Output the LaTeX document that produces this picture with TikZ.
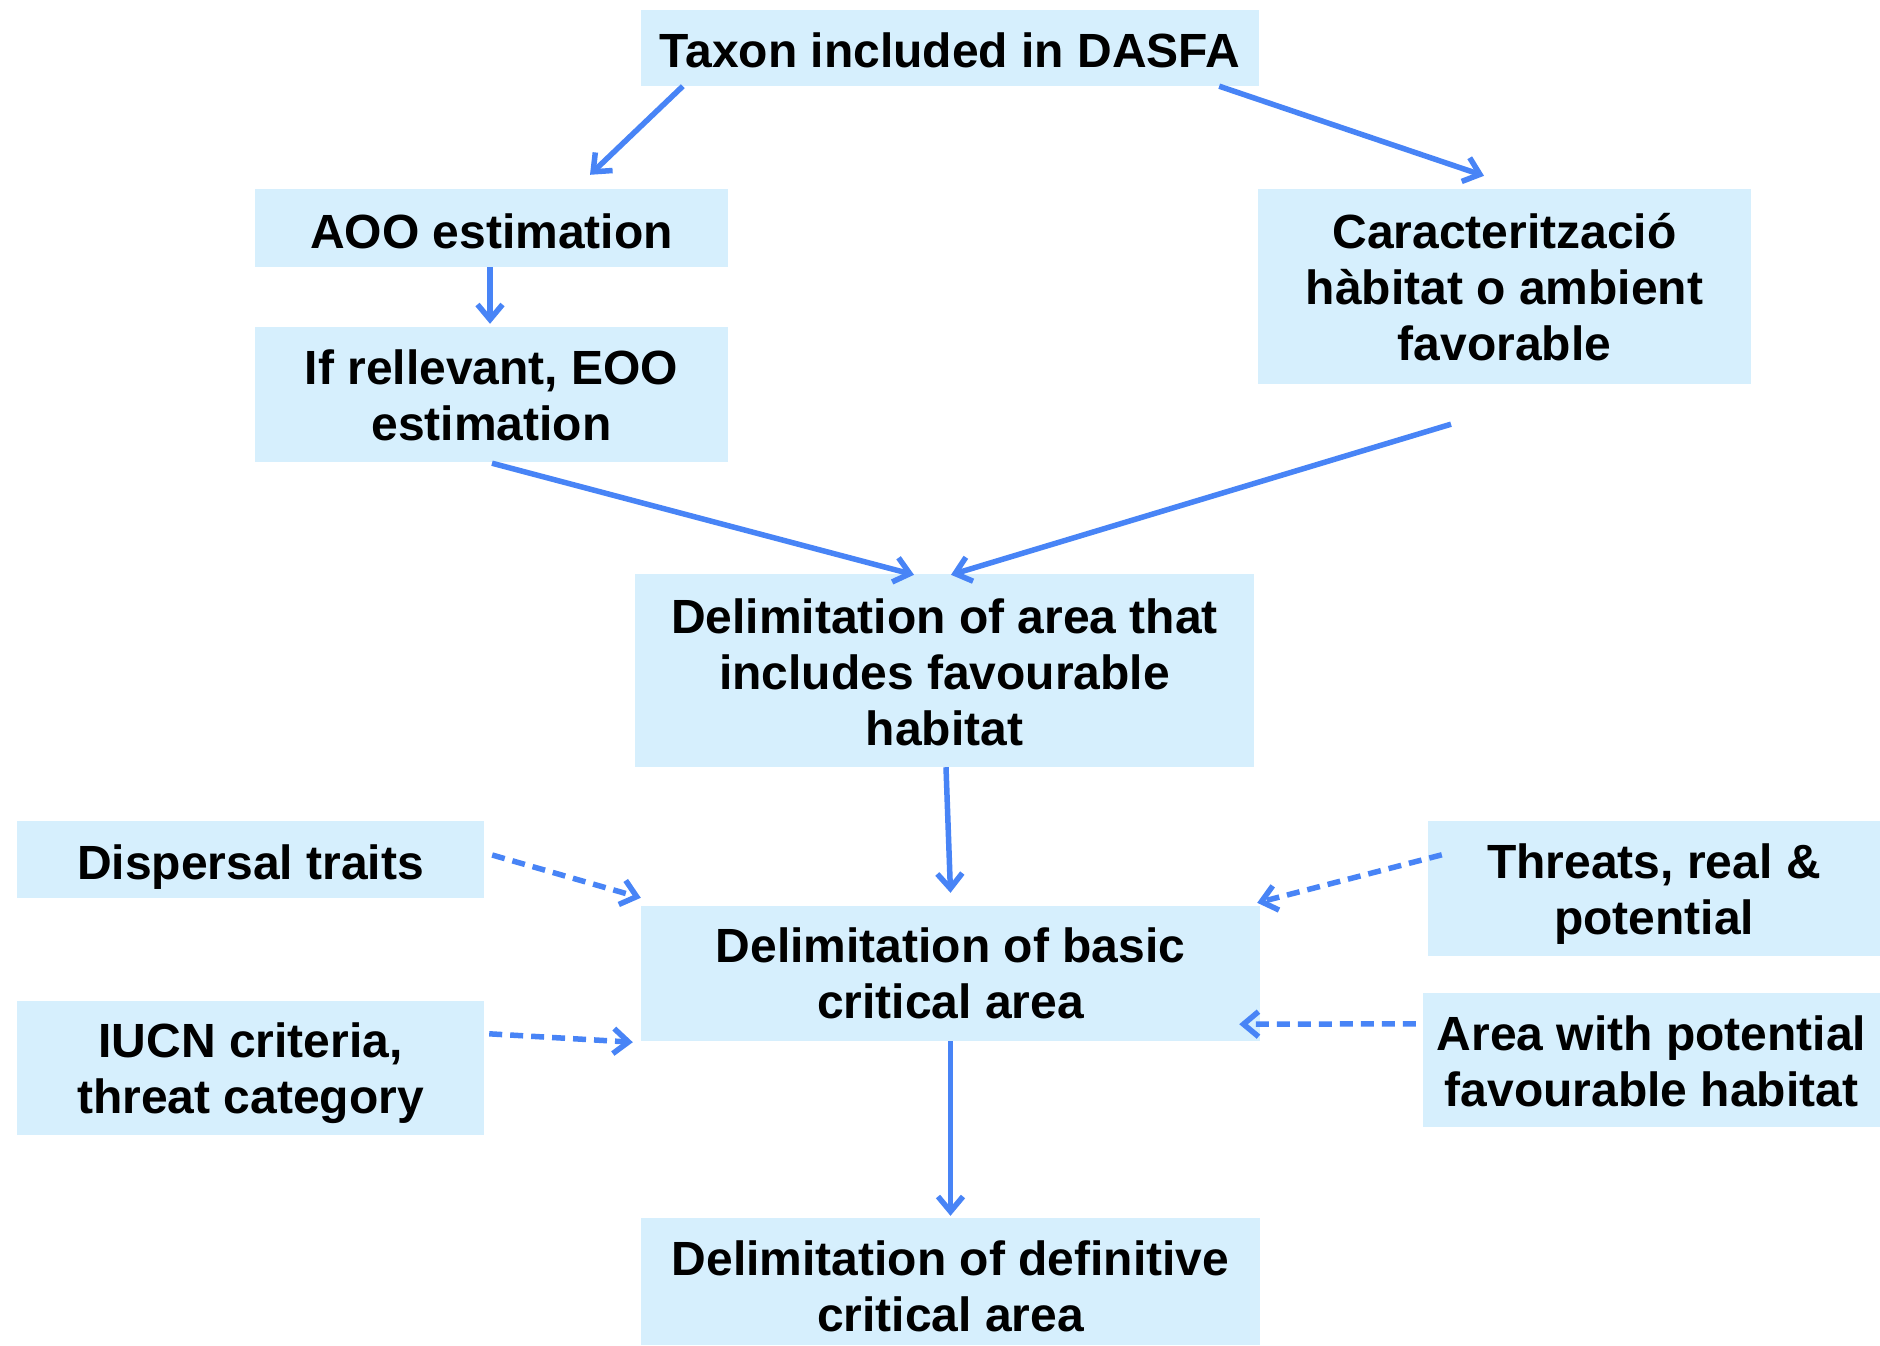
\documentclass[tikz,border=0pt]{standalone}
\usepackage{fontspec}
\setmainfont{Liberation Sans}
\usetikzlibrary{arrows.meta,calc}
\definecolor{boxfill}{RGB}{214,239,253}
\definecolor{arrblue}{RGB}{72,132,246}
\begin{document}
\begin{tikzpicture}[x=1pt,y=-1pt,
  box/.style={fill=boxfill,inner sep=0pt,align=center,
    font=\bfseries\fontsize{48}{56}\selectfont},
  tb/.style={text height=#1pt,text depth=0pt},
  arr/.style={draw=arrblue,line width=5.5pt,
    -{Straight Barb[length=15pt,width=25pt,line width=5.5pt]}},
  darr/.style={arr,dash pattern=on 13pt off 8pt}]
\path[fill=white,use as bounding box] (0,0) rectangle (1880,1346);
\node[box,tb=40,minimum width=618pt,minimum height=76pt] (taxon) at (950,48) {Taxon included in DASFA};
\node[box,tb=40,minimum width=473pt,minimum height=78pt] (aoo) at (491.5,228) {AOO estimation};
\node[box,tb=91,minimum width=473pt,minimum height=135pt] (eoo) at (491.5,394.5) {If rellevant, EOO\\estimation};
\node[box,tb=147,minimum width=493pt,minimum height=195pt] (carac) at (1504.5,286.5) {Caracterització\\hàbitat o ambient\\favorable};
\node[box,tb=149,minimum width=619pt,minimum height=193pt] (area) at (944.5,670.5) {Delimitation of area that\\includes favourable\\habitat};
\node[box,tb=39,minimum width=467pt,minimum height=77pt] (disp) at (250.5,859.5) {Dispersal traits};
\node[box,tb=89,minimum width=619pt,minimum height=135pt] (basic) at (950.5,973.5) {Delimitation of basic\\critical area};
\node[box,tb=91,minimum width=452pt,minimum height=135pt] (threats) at (1654,888.5) {Threats, real \&\\potential};
\node[box,tb=90,minimum width=467pt,minimum height=134pt] (iucn) at (250.5,1068) {IUCN criteria,\\threat category};
\node[box,tb=92,minimum width=457pt,minimum height=134pt] (areapot) at (1651.5,1060) {Area with potential\\favourable habitat};
\node[box,tb=99,minimum width=619pt,minimum height=127pt] (def) at (950.5,1281.5) {Delimitation of definitive\\critical area};

\draw[arr] ($(taxon.south west)+(42,0)$) -- ($(aoo.north)+(98.5,-14)$);
\draw[arr] ($(taxon.south east)+(-40,0)$) -- ($(carac.north)+(-20.5,-13)$);
\draw[arr] ($(aoo.south)+(-1.5,0)$) -- ($(eoo.north)+(-1.5,-3)$);
\draw[arr] ($(eoo.south)+(0.5,1)$) -- ($(area.north)+(-30.5,1)$);
\draw[arr] ($(carac.south)+(-53.5,40)$) -- ($(area.north)+(6.5,1)$);
\draw[arr] ($(area.south)+(1.5,0)$) -- ($(basic.north)+(0,-13)$);
\draw[arr] ($(basic.south)+(0,0)$) -- ($(def.north)+(0,-2)$);
\draw[darr] ($(disp.east)+(8,-4.5)$) -- ($(basic.north west)+(0,-8)$);
\draw[darr] ($(iucn.north east)+(5,33)$) -- ($(basic.south west)+(-8,1)$);
\draw[darr] ($(threats.north west)+(14,34)$) -- ($(basic.north east)+(-3,-3)$);
\draw[darr] ($(areapot.north west)+(-7,31)$) -- ($(basic.south east)+(-21,-17)$);
\end{tikzpicture}
\end{document}
